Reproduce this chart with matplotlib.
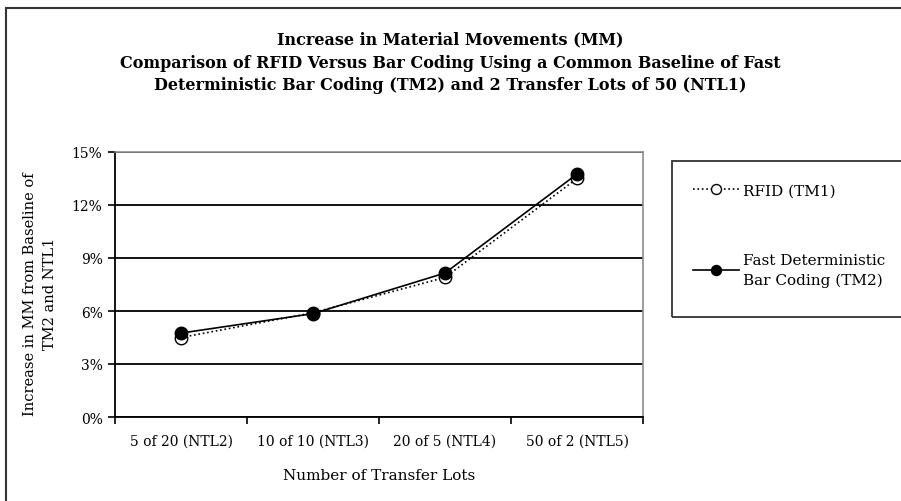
import numpy as np
import matplotlib
matplotlib.use("Agg")
import matplotlib.pyplot as plt
from matplotlib.patches import Rectangle
from matplotlib.ticker import FixedLocator, PercentFormatter

categories = ["5 of 20 (NTL2)", "10 of 10 (NTL3)", "20 of 5 (NTL4)", "50 of 2 (NTL5)"]
rfid = [4.5, 5.9, 7.9, 13.5]
tm2 = [4.75, 5.85, 8.15, 13.75]
yticks = [0, 3, 6, 9, 12, 15]

title = ("Increase in Material Movements (MM)\n"
         "Comparison of RFID Versus Bar Coding Using a Common Baseline of Fast\n"
         "Deterministic Bar Coding (TM2) and 2 Transfer Lots of 50 (NTL1)")

plt.rcParams['font.family'] = ['DejaVu Serif']

W, H = 901, 502
fig = plt.figure(figsize=(W / 100, H / 100), dpi=100)
ax = fig.add_axes([115 / W, 1 - 418 / H, 528 / W, 265 / H])

x = np.arange(len(categories))
ax.plot(x, rfid, linestyle=':', color='black', linewidth=1.2,
        marker='o', markersize=9, markerfacecolor='white',
        markeredgecolor='black', markeredgewidth=1.0, label='RFID (TM1)')
ax.plot(x, tm2, linestyle='-', color='black', linewidth=1.2,
        marker='o', markersize=9, markerfacecolor='black',
        markeredgecolor='black', label='Fast Deterministic\nBar Coding (TM2)')

ax.set_xlim(-0.5, len(categories) - 0.5)
ax.set_ylim(0, 15)
ax.set_yticks(yticks)
ax.yaxis.set_major_formatter(PercentFormatter(decimals=0))
ax.set_xticks(x)
ax.set_xticklabels(categories)
ax.xaxis.set_minor_locator(FixedLocator(np.arange(-0.5, len(categories), 1.0)))
ax.tick_params(axis='x', which='major', length=0, pad=12, labelsize=10)
ax.tick_params(axis='x', which='minor', length=5, width=1.2, direction='out')
ax.tick_params(axis='y', length=5, width=1.2, direction='out', labelsize=10, pad=4)

ax.grid(axis='y', color='black', linewidth=1.3)
ax.set_axisbelow(True)
for s in ['top', 'right']:
    ax.spines[s].set_color('#8c8c8c')
    ax.spines[s].set_linewidth(1.2)
for s in ['left', 'bottom']:
    ax.spines[s].set_color('black')
    ax.spines[s].set_linewidth(1.3)

ax.set_xlabel("Number of Transfer Lots", fontsize=11, labelpad=15)

fig.text(40 / W, 1 - 294 / H, "Increase in MM from Baseline of\nTM2 and NTL1",
         rotation=90, ha='center', va='center', fontsize=10.5, linespacing=1.55)

fig.text(450 / W, 1 - 63 / H, title, ha='center', va='center',
         fontsize=11.5, fontweight='bold', linespacing=1.45)

# outer chart border
fig.patches.append(Rectangle((6 / W, -0.05), 1.1, 1 - 9 / H + 0.05,
                             transform=fig.transFigure, fill=False,
                             edgecolor='#333333', linewidth=1.5, clip_on=False))
# legend box
fig.patches.append(Rectangle((672 / W, 1 - 318 / H), 0.5, 156 / H,
                             transform=fig.transFigure, fill=False,
                             edgecolor='#333333', linewidth=1.3, clip_on=False))

leg = ax.legend(loc='upper left', bbox_to_anchor=(679 / W, 1 - 171 / H),
                bbox_transform=fig.transFigure, frameon=False,
                fontsize=11, handlelength=3.0, handletextpad=0.3,
                labelspacing=3.6, markerscale=0.8)
leg.get_texts()[1].set_linespacing(1.5)

fig.savefig("out.png", dpi=100)
